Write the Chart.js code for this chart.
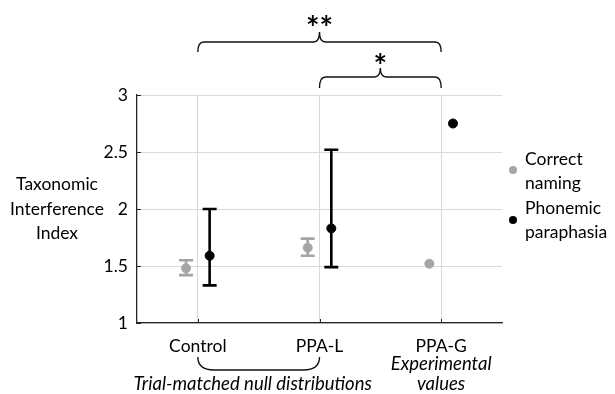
<!DOCTYPE html>
<html>
<head>
<meta charset="utf-8">
<script src="https://cdn.jsdelivr.net/npm/chart.js@4"></script>
<style>
  html, body { margin: 0; padding: 0; background: #fff; }
  #wrap { width: 615px; height: 394px; position: relative; }
</style>
</head>
<body>
<div id="wrap"><canvas id="chart"></canvas></div>
<script>
// data
const categories = ['Control', 'PPA-L', 'PPA-G'];
const yTicks = [1, 1.5, 2, 2.5, 3];

const correctMean = [1.48, 1.66, 1.52];
const correctLow = [1.42, 1.59, null];
const correctHigh = [1.55, 1.74, null];

const phonemicMean = [1.59, 1.83, 2.75];
const phonemicLow = [1.33, 1.49, null];
const phonemicHigh = [2.0, 2.52, null];

const FONT = 'Lato, "Open Sans", sans-serif';
const GRAY = '#a5a5a5';
const BLACK = '#000000';
const OFFSET = 0.097; // horizontal shift of each series from category centre

function points(values, shift) {
    return values.map((v, i) => ({ x: i + shift, y: v }));
}

// error bars, drawn under the points
const errorBars = {
    id: 'errorBars',
    beforeDatasetsDraw(chart) {
        const ctx = chart.ctx;
        const xs = chart.scales.x, ys = chart.scales.y;
        const sets = [
            { lo: correctLow, hi: correctHigh, shift: -OFFSET, color: GRAY },
            { lo: phonemicLow, hi: phonemicHigh, shift: OFFSET, color: BLACK }
        ];
        ctx.save();
        sets.forEach(s => {
            ctx.strokeStyle = s.color;
            ctx.lineWidth = 2.6;
            s.lo.forEach((lo, i) => {
                if (lo === null) return;
                const x = xs.getPixelForValue(i + s.shift);
                const y1 = ys.getPixelForValue(lo);
                const y2 = ys.getPixelForValue(s.hi[i]);
                ctx.beginPath();
                ctx.moveTo(x, y1); ctx.lineTo(x, y2);
                ctx.moveTo(x - 7, y1); ctx.lineTo(x + 7, y1);
                ctx.moveTo(x - 7, y2); ctx.lineTo(x + 7, y2);
                ctx.stroke();
            });
        });
        ctx.restore();
    }
};

function brace(ctx, x1, x2, yEnd, yBar, yTip) {
    const r = 6;
    const xm = (x1 + x2) / 2;
    ctx.beginPath();
    ctx.moveTo(x1, yEnd);
    ctx.quadraticCurveTo(x1, yBar, x1 + r, yBar);
    ctx.lineTo(xm - r, yBar);
    ctx.quadraticCurveTo(xm, yBar, xm, yTip);
    ctx.quadraticCurveTo(xm, yBar, xm + r, yBar);
    ctx.lineTo(x2 - r, yBar);
    ctx.quadraticCurveTo(x2, yBar, x2, yEnd);
    ctx.stroke();
}

// axis ticks, title, braces, legend and notes
const decorations = {
    id: 'decorations',
    afterDraw(chart) {
        const ctx = chart.ctx;
        const xs = chart.scales.x, ys = chart.scales.y;
        const a = chart.chartArea;
        ctx.save();

        // inward ticks
        ctx.strokeStyle = '#262626';
        ctx.lineWidth = 1;
        ctx.beginPath();
        yTicks.forEach(v => {
            const y = Math.round(ys.getPixelForValue(v)) + 0.5;
            ctx.moveTo(a.left, y); ctx.lineTo(a.left + 4, y);
        });
        categories.forEach((c, i) => {
            const x = Math.round(xs.getPixelForValue(i)) + 0.5;
            ctx.moveTo(x, a.bottom); ctx.lineTo(x, a.bottom - 4);
        });
        ctx.stroke();

        ctx.fillStyle = '#000';
        ctx.textAlign = 'center';
        ctx.textBaseline = 'middle';

        // y title
        ctx.font = '17.5px ' + FONT;
        ctx.fillText('Taxonomic', 57, 184);
        ctx.fillText('Interference', 57, 209);
        ctx.fillText('Index', 57, 233);

        // significance braces
        const x0 = xs.getPixelForValue(0);
        const x1 = xs.getPixelForValue(1);
        const x2 = xs.getPixelForValue(2);
        ctx.strokeStyle = '#111';
        ctx.lineWidth = 1.4;
        brace(ctx, x0, x2, 52, 42, 32);
        brace(ctx, x1, x2, 88, 77, 68);
        ctx.font = 'bold 32px ' + FONT;
        ctx.fillText('**', (x0 + x2) / 2, 30);
        ctx.fillText('*', (x1 + x2) / 2, 68);

        // bottom brace for null distributions
        ctx.beginPath();
        ctx.moveTo(x0, 357);
        ctx.quadraticCurveTo(x0, 370, x0 + 16, 370);
        ctx.lineTo(x1 - 16, 370);
        ctx.quadraticCurveTo(x1, 370, x1, 357);
        ctx.stroke();

        ctx.font = 'italic 18.5px ' + FONT;
        ctx.fillText('Trial-matched null distributions', (x0 + x1) / 2 - 6, 384);
        ctx.fillText('Experimental', x2, 364);
        ctx.fillText('values', x2, 384);

        // legend
        ctx.textAlign = 'left';
        ctx.font = '17.5px ' + FONT;
        ctx.fillStyle = GRAY;
        ctx.beginPath(); ctx.arc(513, 170, 4, 0, Math.PI * 2); ctx.fill();
        ctx.fillStyle = BLACK;
        ctx.beginPath(); ctx.arc(513, 220, 4, 0, Math.PI * 2); ctx.fill();
        ctx.fillText('Correct', 525, 159);
        ctx.fillText('naming', 525, 183);
        ctx.fillText('Phonemic', 525, 208);
        ctx.fillText('paraphasia', 525, 232);

        ctx.restore();
    }
};

new Chart(document.getElementById('chart'), {
    type: 'scatter',
    data: {
        datasets: [
            {
                label: 'Correct naming',
                data: points(correctMean, -OFFSET),
                backgroundColor: GRAY,
                borderColor: GRAY,
                pointRadius: 4.5,
                pointHoverRadius: 4.5
            },
            {
                label: 'Phonemic paraphasia',
                data: points(phonemicMean, OFFSET),
                backgroundColor: BLACK,
                borderColor: BLACK,
                pointRadius: 4.5,
                pointHoverRadius: 4.5
            }
        ]
    },
    options: {
        responsive: true,
        maintainAspectRatio: false,
        animation: false,
        layout: { padding: { left: 100, right: 113, top: 95, bottom: 0 } },
        plugins: {
            legend: { display: false },
            tooltip: { enabled: false }
        },
        scales: {
            x: {
                type: 'linear',
                min: -0.5,
                max: 2.5,
                afterBuildTicks: function(scale) {
                    scale.ticks = categories.map((c, i) => ({ value: i }));
                },
                afterFit: function(scale) { scale.height = 71; },
                grid: { color: '#d9d9d9', drawTicks: false },
                border: { color: '#262626', width: 1.3 },
                ticks: {
                    padding: 13,
                    color: '#000',
                    font: { family: FONT, size: 17.5 },
                    callback: function(value) { return categories[value]; }
                }
            },
            y: {
                min: 1,
                max: 3,
                afterBuildTicks: function(scale) {
                    scale.ticks = yTicks.map(v => ({ value: v }));
                },
                afterFit: function(scale) { scale.width = 37; },
                grid: { color: '#d9d9d9', drawTicks: false },
                border: { color: '#262626', width: 1.3 },
                ticks: {
                    padding: 9,
                    color: '#000',
                    font: { family: FONT, size: 17.5 },
                    callback: function(value) { return String(value); }
                }
            }
        }
    },
    plugins: [errorBars, decorations]
});
</script>
</body>
</html>
